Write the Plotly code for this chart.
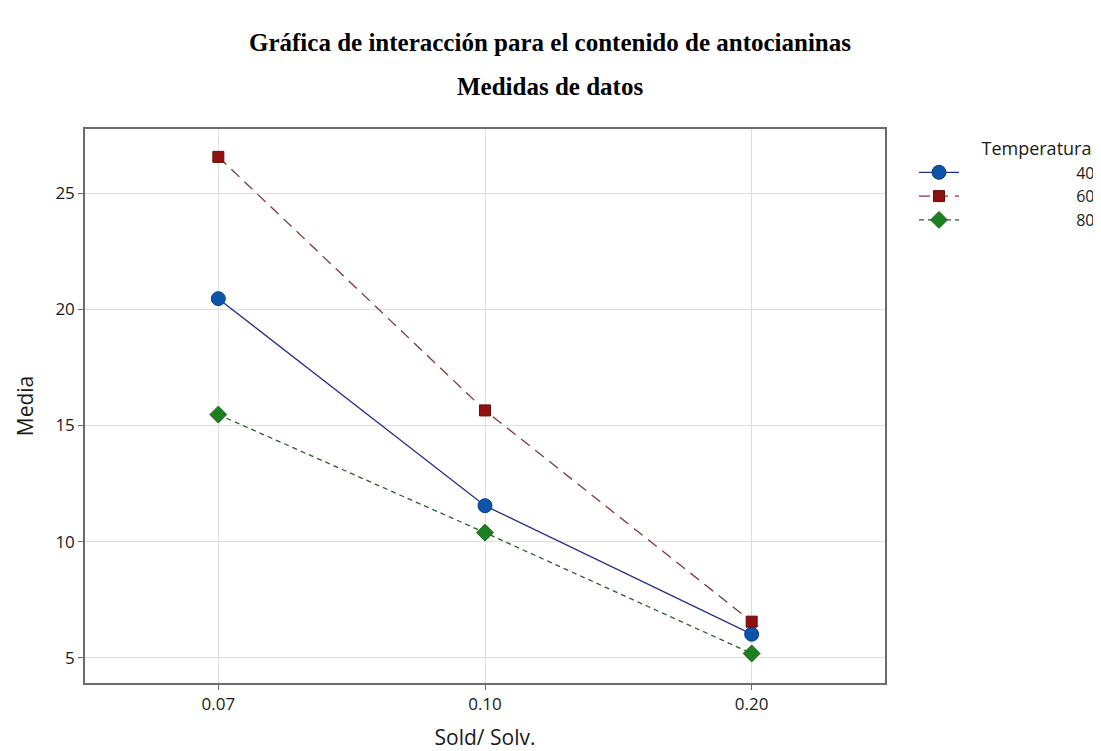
import plotly.graph_objects as go

categories = ["0.07", "0.10", "0.20"]
temp_labels = ["40", "60", "80"]
media_40 = [20.46, 11.55, 6.02]
media_60 = [26.56, 15.65, 6.56]
media_80 = [15.47, 10.39, 5.19]
y_ticks = [5, 10, 15, 20, 25]

title_1 = "Gráfica de interacción para el contenido de antocianinas"
title_2 = "Medidas de datos"
x_title = "Sold/ Solv."
y_title = "Media"
legend_title = "Temperatura"

# page body has an 8px margin, so the figure is laid out 8px smaller
OFF = 8
W, H = 1101 - OFF, 751 - OFF
L, R, T, B = 85 - OFF, 885 - OFF, 129 - OFF, 683 - OFF

NB = "\u00a0"
pad = NB * 27

fig = go.Figure()
fig.add_trace(go.Scatter(
    x=categories, y=media_40, name=pad + temp_labels[0], mode="lines+markers",
    line=dict(color="#27308A", width=1.3),
    marker=dict(symbol="circle", size=14, color="#0B54A8",
                line=dict(color="#0A3F86", width=1)),
))
fig.add_trace(go.Scatter(
    x=categories, y=media_60, name=pad + temp_labels[1], mode="lines+markers",
    line=dict(color="#7A3A3A", width=1.3, dash="11px,7px"),
    marker=dict(symbol="square", size=11, color="#8E1111",
                line=dict(color="#6E0A0A", width=1)),
))
fig.add_trace(go.Scatter(
    x=categories, y=media_80, name=pad + temp_labels[2], mode="lines+markers",
    line=dict(color="#2B5F2B", width=1.3, dash="5px,4px"),
    marker=dict(symbol="diamond", size=13, color="#1E7E22",
                line=dict(color="#17661A", width=1)),
))

axis_common = dict(
    showline=True, linecolor="#6B6B6B", linewidth=1.5, mirror=True,
    showgrid=True, gridcolor="#DEDEDE", gridwidth=1.2,
    ticks="outside", ticklen=5, tickcolor="#6B6B6B", tickwidth=1,
    tickfont=dict(family="Open Sans", size=17, color="#1A1A1A"),
    zeroline=False, automargin=False,
)

fig.update_layout(
    width=W, height=H,
    template="none",
    paper_bgcolor="white", plot_bgcolor="white",
    margin=dict(l=L, r=W - R, t=T, b=H - B, autoexpand=False),
    title=dict(
        text="<b>" + title_1 + "</b>",
        font=dict(family="Liberation Serif", size=25, color="black"),
        x=(550 - OFF) / W, xanchor="center", xref="container",
        y=1 - (42 - OFF) / H, yanchor="middle", yref="container",
    ),
    annotations=[dict(
        text="<b>" + title_2 + "</b>",
        font=dict(family="Liberation Serif", size=25, color="black"),
        x=(550 - OFF - L) / (R - L), xref="paper", xanchor="center",
        y=(B - (86 - OFF)) / (B - T), yref="paper", yanchor="middle",
        showarrow=False,
    )],
    xaxis=dict(
        type="category", range=[-0.5, 2.5],
        title=dict(text=x_title, standoff=32,
                   font=dict(family="Open Sans", size=21, color="#1A1A1A")),
        **axis_common,
    ),
    yaxis=dict(
        range=[3.92, 27.76], tickvals=y_ticks,
        title=dict(text=y_title, standoff=16,
                   font=dict(family="Open Sans", size=21, color="#1A1A1A")),
        **axis_common,
    ),
    legend=dict(
        title=dict(text=NB * 14 + legend_title,
                   font=dict(family="Open Sans", size=18, color="#1A1A1A")),
        font=dict(family="Open Sans", size=16, color="#1A1A1A"),
        x=(1100 - OFF - L) / (R - L), xanchor="right",
        y=(B - (132 - OFF)) / (B - T), yanchor="top",
        bgcolor="rgba(0,0,0,0)", itemwidth=40, tracegroupgap=0,
    ),
    showlegend=True,
)

fig.write_html("out.html")
